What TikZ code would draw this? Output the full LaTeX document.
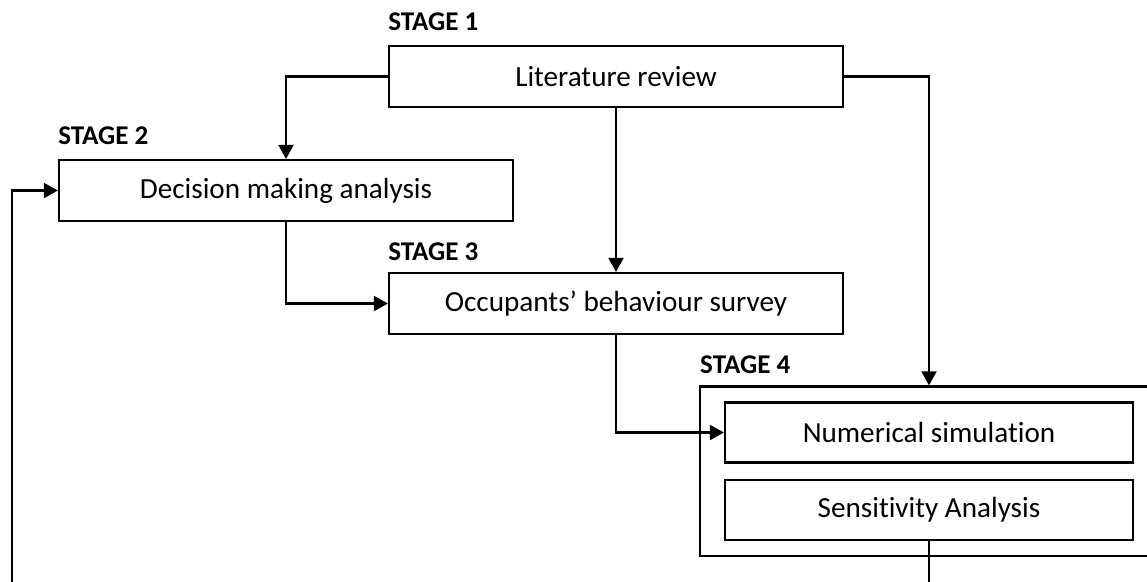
\documentclass[tikz,border=0pt]{standalone}
\usepackage{fontspec}
\setmainfont{Carlito}[Ligatures=NoCommon]
\usepackage{tikz}
\usetikzlibrary{
  positioning,
  arrows.meta,
  fit
}

\begin{document}
\begin{tikzpicture}[
  >={Triangle[length=8pt, width=8.5pt]},
  box/.style={draw, line width=1.2pt, minimum width=9.08cm, minimum height=1.22cm,
              inner sep=0pt, font=\fontsize{16.6}{19}\selectfont, align=center},
  subbox/.style={box, minimum width=8.16cm, minimum height=1.2cm},
  stagelbl/.style={inner sep=0pt, font=\fontsize{15.4}{18}\selectfont\bfseries},
  arr/.style={->, line width=1.2pt},
]
\useasboundingbox (0,0) rectangle (22.94,-11.62);

\node[box] (lit) at (12.32,-1.53) {Literature review};
\node[box] (dec) at (5.72,-3.81) {Decision making analysis};
\node[box] (occ) at (12.32,-6.07) {Occupants’ behaviour survey};
\node[subbox] (num) at (18.58,-8.65) {Numerical simulation};
\node[subbox, below=0.3cm of num] (sens) {Sensitivity Analysis};
\node[draw, line width=1.2pt, inner xsep=0.48cm, inner ysep=0.3cm, fit=(num)(sens)] (stg4) {};

\node[stagelbl, above right=0.28cm and 0cm of lit.north west] (s1) {STAGE 1};
\node[stagelbl, above right=0.28cm and 0cm of dec.north west] (s2) {STAGE 2};
\node[stagelbl, above right=0.22cm and 0cm of occ.north west] (s3) {STAGE 3};
\node[stagelbl, above right=0.22cm and 0.02cm of stg4.north west] (s4) {STAGE 4};

\coordinate (loop) at (0.24,-12.2);

\draw[arr] (lit.west) -| (dec.north);
\draw[arr] (lit.south) -- (occ.north);
\draw[arr] (lit.east) -| (stg4.north);
\draw[arr] (dec.south) |- (occ.west);
\draw[arr] (occ.south) |- (num.west);
\draw[arr] (sens.south) |- (loop) |- (dec.west);

\end{tikzpicture}
\end{document}
